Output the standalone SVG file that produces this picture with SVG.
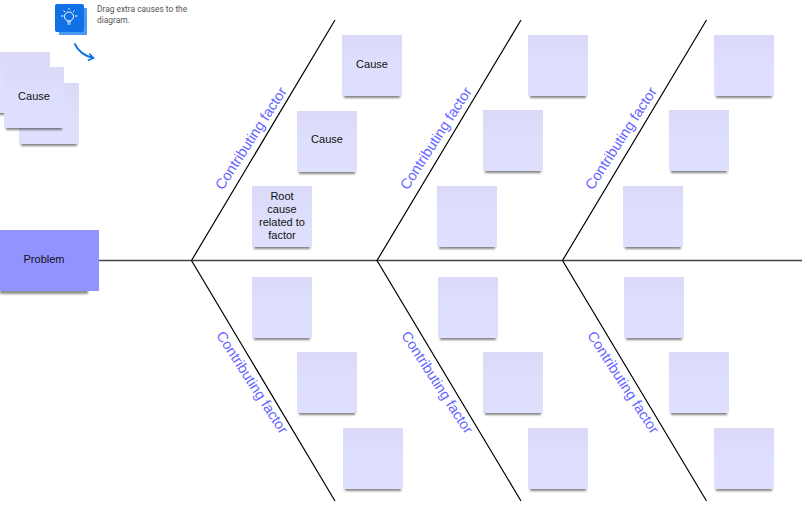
<svg xmlns="http://www.w3.org/2000/svg" width="802" height="510" viewBox="0 0 802 510">
<style>
text{font-family:"Liberation Sans",Arial,sans-serif}
.t{font-size:11px;fill:#111;text-anchor:middle}
.f{font-size:14.500px;fill:#6666ff;text-anchor:middle}
.h{font-family:Roboto,"Liberation Sans",sans-serif;font-size:8.400px;fill:#555}
.b{stroke:#000;stroke-width:1.2;fill:none}
.n{fill:url(#g)}
.s{fill:#333;opacity:.6;filter:url(#bl)}
</style>
<defs>
<linearGradient id="g" x1="0" y1="0" x2="0" y2="1"><stop offset="0" stop-color="#dadaf8"/><stop offset=".5" stop-color="#dedffc"/><stop offset="1" stop-color="#dfdffe"/></linearGradient>
<filter id="bl" x="-10%" y="-20%" width="120%" height="140%"><feGaussianBlur stdDeviation="1.100"/></filter>
<marker id="ah" markerWidth="8" markerHeight="8" refX="6" refY="4" orient="auto" markerUnits="userSpaceOnUse"><path d="M1 0.500L6 4L1 7.500" fill="none" stroke="#1070e6" stroke-width="1.600"/></marker>
<g id="note"><rect class="s" x="2" y="56" width="56" height="7"/><rect class="n" width="60" height="61"/></g>
</defs>
<g id="connectors">
<path d="M99 260.500H802" stroke="#444" stroke-width="1.400" fill="none"/>
<path class="b" d="M335 20L191.500 260.500L335 501M521 20L377 260.500L521 501M706.500 20L562.500 260.500L706.500 501"/>
</g>
<g id="hint">
<rect x="59" y="8" width="28" height="27" rx="1" fill="#4a9bf5"/>
<rect x="55" y="4" width="29" height="28" rx="2" fill="#1070e6"/>
<g fill="none" stroke="#fff" stroke-width="1"><circle cx="69" cy="16.500" r="4.500"/><path d="M67 22h4M67.500 24h3M61 16h2.500M75 16h2.500M63.500 10.500l1.500 1.500M74.500 10.500l-1.500 1.500M69 8v1.500"/></g>
<text class="h" x="97" y="12">Drag extra causes to the</text>
<text class="h" x="97" y="23">diagram.</text>
<path d="M74.500 43.500C78 51 84 56 93.500 58" fill="none" stroke="#1070e6" stroke-width="1.800" marker-end="url(#ah)"/>
</g>
<g id="stack">
<use href="#note" x="-10" y="52"/>
<use href="#note" x="19" y="83"/>
<use href="#note" x="4" y="67"/>
<text class="t" x="34" y="100">Cause</text>
</g>
<g id="problem">
<rect x="0" y="287" width="88" height="7" fill="#333" opacity=".55" filter="url(#bl)"/>
<rect x="-1" y="230" width="100" height="61" fill="#9393ff"/>
<text class="t" x="44" y="263">Problem</text>
</g>
<g id="f1"><text class="f" transform="translate(255 141) rotate(-57)">Contributing factor</text></g>
<g id="f2"><text class="f" transform="translate(440 141) rotate(-57)">Contributing factor</text></g>
<g id="f3"><text class="f" transform="translate(625 141) rotate(-57)">Contributing factor</text></g>
<g id="f4"><text class="f" transform="translate(248 385) rotate(57)">Contributing factor</text></g>
<g id="f5"><text class="f" transform="translate(433 385) rotate(57)">Contributing factor</text></g>
<g id="f6"><text class="f" transform="translate(619 385) rotate(57)">Contributing factor</text></g>
<g id="n1"><use href="#note" x="342" y="35"/><text class="t" x="372" y="68">Cause</text></g>
<g id="n2"><use href="#note" x="297" y="111"/><text class="t" x="327" y="143">Cause</text></g>
<g id="n3"><use href="#note" x="252" y="186"/><text class="t" x="282" y="200">Root</text><text class="t" x="282" y="213">cause</text><text class="t" x="282" y="226">related to</text><text class="t" x="282" y="239">factor</text></g>
<g id="n4"><use href="#note" x="528" y="35"/></g>
<g id="n5"><use href="#note" x="483" y="110"/></g>
<g id="n6"><use href="#note" x="437" y="186"/></g>
<g id="n7"><use href="#note" x="714" y="35"/></g>
<g id="n8"><use href="#note" x="669" y="110"/></g>
<g id="n9"><use href="#note" x="623" y="186"/></g>
<g id="n10"><use href="#note" x="252" y="277"/></g>
<g id="n11"><use href="#note" x="297" y="352"/></g>
<g id="n12"><use href="#note" x="343" y="428"/></g>
<g id="n13"><use href="#note" x="438" y="277"/></g>
<g id="n14"><use href="#note" x="483" y="352"/></g>
<g id="n15"><use href="#note" x="528" y="428"/></g>
<g id="n16"><use href="#note" x="624" y="277"/></g>
<g id="n17"><use href="#note" x="669" y="352"/></g>
<g id="n18"><use href="#note" x="714" y="428"/></g>
</svg>
